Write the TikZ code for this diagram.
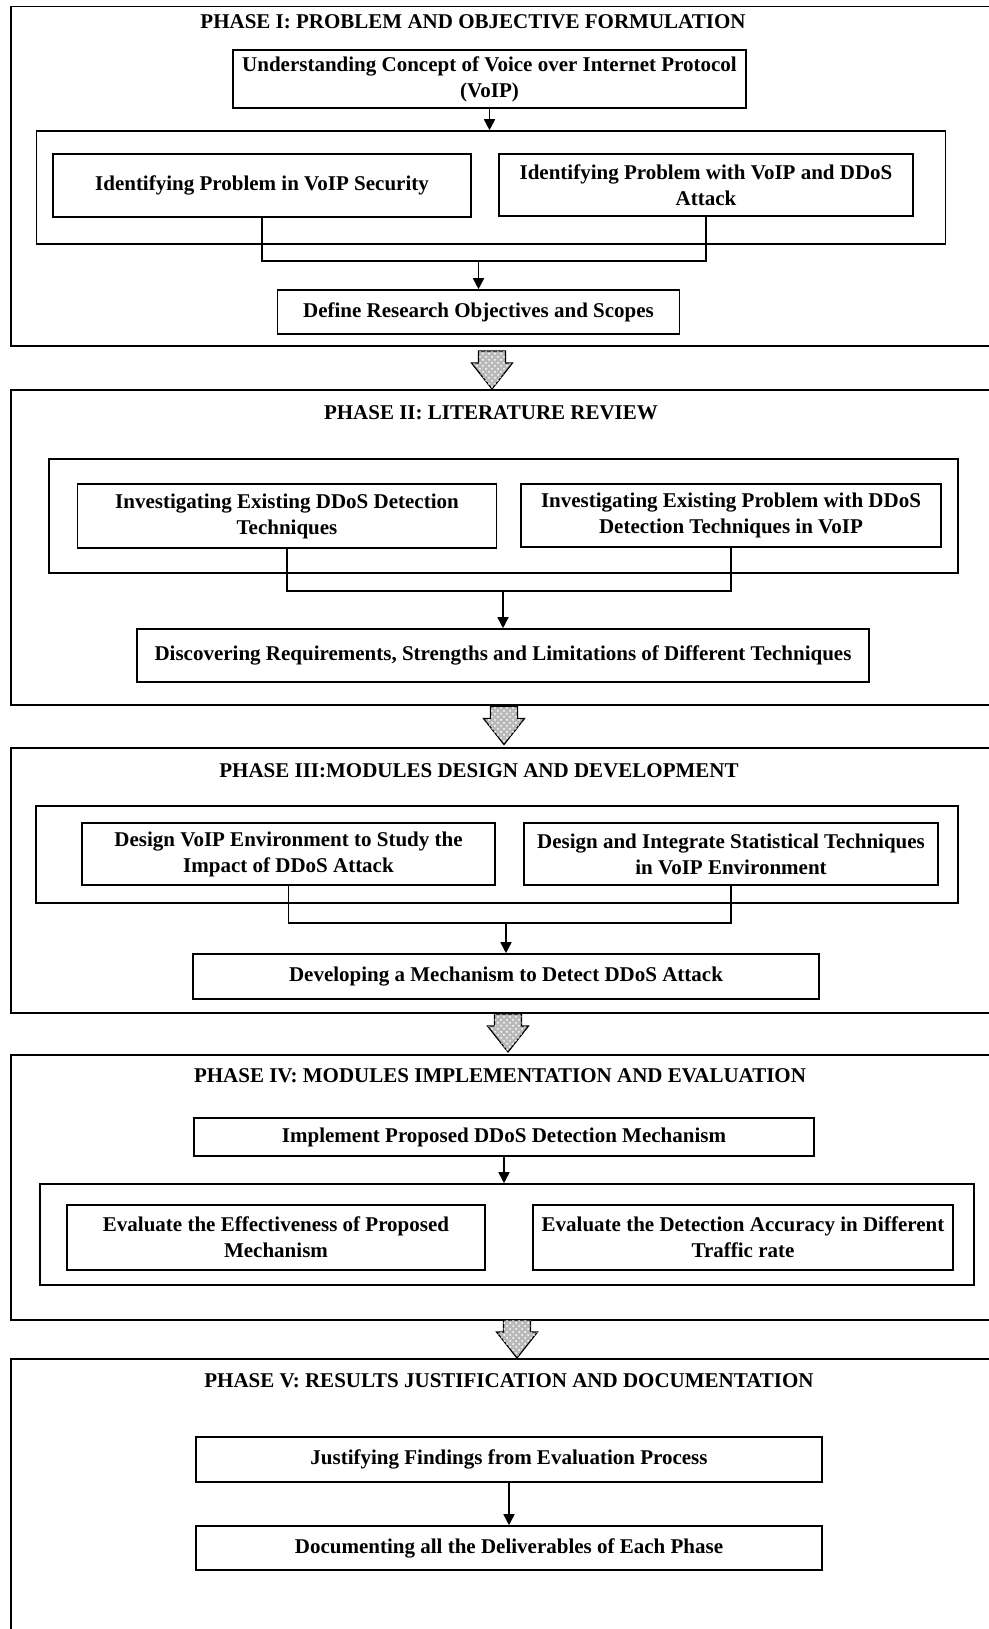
\documentclass[tikz,border=0pt]{standalone}
\usepackage{fontspec}
\setmainfont{Liberation Serif}
\usetikzlibrary{patterns,arrows.meta}

\newcommand{\phasejump}[2]{%
  \draw[jump] (#1,#2) +(-13.5,0) -- +(13.5,0) -- +(13.5,12) -- +(20.5,12)
    -- +(0,38) -- +(-20.5,12) -- +(-13.5,12) -- cycle;}

\begin{document}
\begin{tikzpicture}[x=0.5pt,y=-0.5pt,
  every node/.style={font=\fontsize{10.5}{13}\selectfont\bfseries},
  box/.style={draw,line width=.8pt,align=center,inner sep=0pt},
  grp/.style={draw,line width=.8pt,inner sep=0pt},
  frame/.style={line width=.9pt},
  link/.style={line width=.8pt},
  flow/.style={line width=.8pt,-{Triangle[length=5.5pt,width=5.5pt]}},
  jump/.style={draw,line width=.6pt,line join=miter,fill=gray!55,
    postaction={pattern=crosshatch dots,pattern color=white}}]
  \useasboundingbox (0,0) rectangle (989,1629);

  % phase I
  \draw[frame] (989,6.5) -- (10.7,6.5) -- (10.7,346) -- (989,346);
  \draw(473,21.5) node (T1) {PHASE I: PROBLEM AND OBJECTIVE FORMULATION};
  \draw(489.5,79) node[box,minimum width=256.5pt,minimum height=29pt] (U) {Understanding Concept of Voice over Internet Protocol\\(VoIP)};
  \draw(491,187.5) node[grp,minimum width=454.5pt,minimum height=56.5pt] (G1) {};
  \draw(262,185.5) node[box,minimum width=209pt,minimum height=31.5pt] (A1) {Identifying Problem in VoIP Security};
  \draw(706,185) node[box,minimum width=207pt,minimum height=31pt] (B1) {Identifying Problem with VoIP and DDoS\\Attack};
  \draw(478.5,312) node[box,minimum width=201pt,minimum height=22pt] (D1) {Define Research Objectives and Scopes};
  \coordinate (J1) at (478.5,261);
  \draw[flow] (U.south) -- (U.south |- G1.north);
  \draw[link] (A1.south) |- (B1.south |- J1) -- (B1.south);
  \draw[flow] (J1) -- (D1.north);

  \phasejump{492}{351}

  % phase II
  \draw[frame] (989,390) -- (10.7,390) -- (10.7,705) -- (989,705);
  \draw(491,413) node (T2) {PHASE II: LITERATURE REVIEW};
  \draw(503.4,516) node[grp,minimum width=454.5pt,minimum height=57pt] (G2) {};
  \draw(287,516) node[box,minimum width=209.5pt,minimum height=32pt] (A2) {Investigating Existing DDoS Detection\\Techniques};
  \draw(731,515.5) node[box,minimum width=210pt,minimum height=31.5pt] (B2) {Investigating Existing Problem with DDoS\\Detection Techniques in VoIP};
  \draw(503,655.5) node[box,minimum width=366pt,minimum height=26.5pt] (D2) {Discovering Requirements, Strengths and Limitations of Different Techniques};
  \coordinate (J2) at (503,591);
  \draw[link] (A2.south) |- (B2.south |- J2) -- (B2.south);
  \draw[flow] (J2) -- (D2.north);

  \phasejump{504}{706.5}

  % phase III
  \draw[frame] (989,748) -- (10.7,748) -- (10.7,1013) -- (989,1013);
  \draw(479,771) node (T3) {PHASE III:MODULES DESIGN AND DEVELOPMENT};
  \draw(497,854.5) node[grp,minimum width=461pt,minimum height=48.5pt] (G3) {};
  \draw(288.5,854) node[box,minimum width=206.5pt,minimum height=31pt] (A3) {Design VoIP Environment to Study the\\Impact of DDoS Attack};
  \draw(731,854) node[box,minimum width=207pt,minimum height=31pt] (B3) {Design and Integrate Statistical Techniques\\in VoIP Environment};
  \draw(506,976.5) node[box,minimum width=313pt,minimum height=22.5pt] (D3) {Developing a Mechanism to Detect DDoS Attack};
  \coordinate (J3) at (506,923);
  \draw[link] (A3.south) |- (B3.south |- J3) -- (B3.south);
  \draw[flow] (J3) -- (D3.north);

  \phasejump{508}{1014}

  % phase IV
  \draw[frame] (989,1055) -- (10.7,1055) -- (10.7,1320) -- (989,1320);
  \draw(500,1076) node (T4) {PHASE IV: MODULES IMPLEMENTATION AND EVALUATION};
  \draw(504,1137) node[box,minimum width=310pt,minimum height=19pt] (I4) {Implement Proposed DDoS Detection Mechanism};
  \draw(507,1234.5) node[grp,minimum width=467pt,minimum height=50.5pt] (G4) {};
  \draw(276,1237.5) node[box,minimum width=209pt,minimum height=32.5pt] (A4) {Evaluate the Effectiveness of Proposed\\Mechanism};
  \draw(743,1237.5) node[box,minimum width=210pt,minimum height=32.5pt] (B4) {Evaluate the Detection Accuracy in Different\\Traffic rate};
  \draw[flow] (I4.south) -- (I4.south |- G4.north);

  \phasejump{517}{1320}

  % phase V
  \draw[frame] (989,1359) -- (10.7,1359) -- (10.7,1629);
  \draw(509,1381) node (T5) {PHASE V: RESULTS JUSTIFICATION AND DOCUMENTATION};
  \draw(509,1459.5) node[box,minimum width=313pt,minimum height=22.5pt] (J5) {Justifying Findings from Evaluation Process};
  \draw(509,1548) node[box,minimum width=313pt,minimum height=22pt] (D5) {Documenting all the Deliverables of Each Phase};
  \draw[flow] (J5) -- (D5);
\end{tikzpicture}
\end{document}
